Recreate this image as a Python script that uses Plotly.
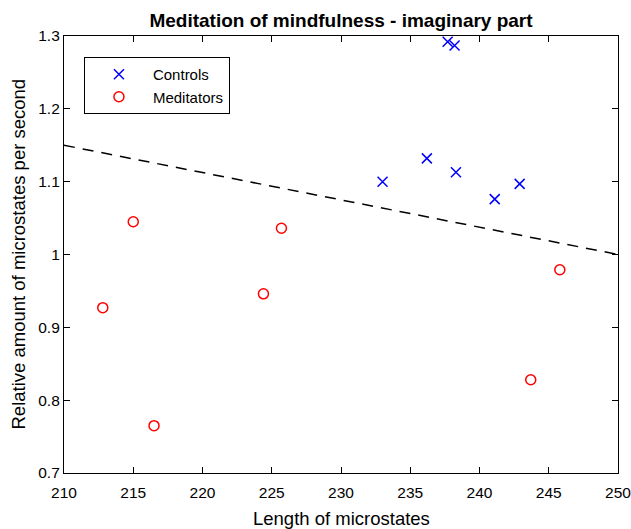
import plotly.graph_objects as go

# Data
controls_x = [233.0, 236.2, 237.7, 238.2, 238.3, 241.1, 242.9]
controls_y = [1.100, 1.132, 1.292, 1.287, 1.113, 1.076, 1.097]
meditators_x = [212.8, 215.0, 216.5, 224.4, 225.7, 243.7, 245.8]
meditators_y = [0.927, 1.045, 0.765, 0.946, 1.036, 0.828, 0.979]
boundary_x = [210, 250]
boundary_y = [1.15, 1.0]

x_ticks = [210, 215, 220, 225, 230, 235, 240, 245, 250]
y_ticks = [0.7, 0.8, 0.9, 1.0, 1.1, 1.2, 1.3]
y_ticklabels = ["0.7", "0.8", "0.9", "1", "1.1", "1.2", "1.3"]

FONT = "Liberation Sans, Arial, sans-serif"

fig = go.Figure()
fig.add_trace(go.Scatter(
    x=boundary_x, y=boundary_y, mode="lines",
    line=dict(color="black", width=1.5, dash="11px,8px"),
    showlegend=False, hoverinfo="skip"))
fig.add_trace(go.Scatter(
    x=controls_x, y=controls_y, mode="markers", name="Controls",
    marker=dict(symbol="x-thin-open", size=10, color="#0000ff",
                line=dict(color="#0000ff", width=1.5))))
fig.add_trace(go.Scatter(
    x=meditators_x, y=meditators_y, mode="markers", name="Meditators",
    marker=dict(symbol="circle-open", size=10, color="#ff0000",
                line=dict(color="#ff0000", width=1.5))))

axis_common = dict(
    showline=True, linecolor="black", linewidth=1.2, mirror="ticks",
    ticks="inside", ticklen=6, tickwidth=1, tickcolor="black",
    showgrid=False, zeroline=False, ticklabeloverflow="allow",
    automargin=False,
    tickfont=dict(family=FONT, size=15.5, color="black"),
)

fig.update_layout(
    width=631, height=529,
    margin=dict(l=64, r=13, t=36, b=56, autoexpand=False),
    paper_bgcolor="white", plot_bgcolor="white",
    font=dict(family=FONT, color="black"),
    title=dict(text="<b>Meditation of mindfulness - imaginary part</b>",
               font=dict(family=FONT, size=19, color="black"),
               x=0.5, xref="paper", xanchor="center",
               y=0.962, yref="container", yanchor="middle"),
    xaxis=dict(range=[210, 250], tickvals=x_ticks, ticklabelstandoff=5,
               **axis_common),
    yaxis=dict(range=[0.7, 1.3], tickvals=y_ticks, ticktext=y_ticklabels,
               **axis_common),
    legend=dict(x=0.036, y=0.952, xanchor="left", yanchor="top",
                bordercolor="black", borderwidth=1, bgcolor="white",
                font=dict(family=FONT, size=15, color="black"),
                itemwidth=58, tracegroupgap=0),
    showlegend=True,
    annotations=[
        dict(text="Length of microstates", xref="paper", yref="paper",
             x=0.5, y=0, yshift=-45, xanchor="center", yanchor="middle",
             showarrow=False, font=dict(family=FONT, size=18.5, color="black")),
        dict(text="Relative amount of microstates per second",
             xref="paper", yref="paper", x=0, y=0.5, xshift=-46,
             xanchor="center", yanchor="middle", textangle=-90,
             showarrow=False, font=dict(family=FONT, size=18.5, color="black")),
    ],
)

fig.write_html("out.html")
